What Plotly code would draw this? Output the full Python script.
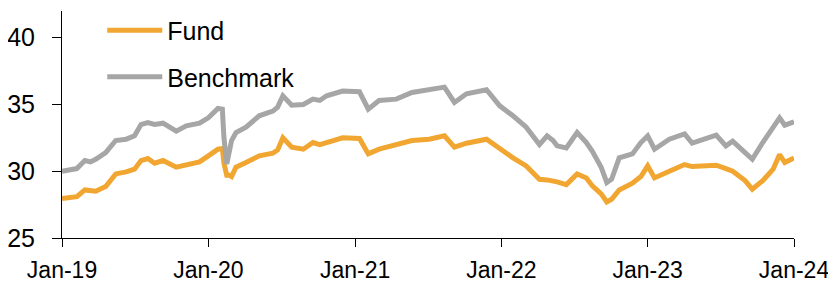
import plotly.graph_objects as go

dates = [
    "2019-01-01", "2019-02-07", "2019-02-27", "2019-03-13", "2019-03-26", "2019-04-20",
    "2019-05-15", "2019-06-10", "2019-07-01", "2019-07-17", "2019-08-03", "2019-08-20",
    "2019-09-10", "2019-10-13", "2019-11-07", "2019-12-10", "2020-01-01", "2020-01-25",
    "2020-02-05", "2020-02-09", "2020-02-16", "2020-02-22", "2020-02-28", "2020-03-10",
    "2020-04-04", "2020-05-07", "2020-06-10", "2020-06-22", "2020-07-05", "2020-07-27",
    "2020-08-25", "2020-09-18", "2020-10-05", "2020-10-22", "2020-12-01", "2021-01-12",
    "2021-02-03", "2021-03-02", "2021-04-14", "2021-05-23", "2021-07-05", "2021-08-12",
    "2021-09-06", "2021-10-06", "2021-11-25", "2021-12-28", "2022-01-30", "2022-03-04",
    "2022-04-06", "2022-04-25", "2022-05-10", "2022-05-20", "2022-06-12", "2022-07-09",
    "2022-08-01", "2022-08-16", "2022-09-07", "2022-09-21", "2022-10-03", "2022-10-22",
    "2022-11-24", "2022-12-15", "2023-01-01", "2023-01-18", "2023-02-24", "2023-04-03",
    "2023-04-22", "2023-05-27", "2023-06-21", "2023-07-15", "2023-08-01", "2023-09-01",
    "2023-09-19", "2023-10-15", "2023-11-10", "2023-11-26", "2023-12-09", "2024-01-01",
]

fund = [
    27.95, 28.1, 28.6, 28.55, 28.5, 28.85,
    29.8, 29.95, 30.15, 30.8, 30.95, 30.6,
    30.8, 30.3, 30.5, 30.7, 31.15, 31.65,
    31.7, 30.6, 29.7, 29.7, 29.6, 30.3,
    30.65, 31.15, 31.35, 31.6, 32.5, 31.8,
    31.65, 32.15, 32.0, 32.15, 32.5, 32.45,
    31.3, 31.65, 32.0, 32.3, 32.4, 32.65,
    31.8, 32.1, 32.4, 31.65, 31.0, 30.4,
    29.4, 29.35, 29.3, 29.2, 29.0, 29.8,
    29.5, 28.9, 28.3, 27.7, 27.9, 28.6,
    29.1, 29.6, 30.4, 29.5, 30.0, 30.5,
    30.35, 30.4, 30.45, 30.2, 30.0, 29.3,
    28.65, 29.3, 30.15, 31.25, 30.65, 31.0,
]

benchmark = [
    30.0, 30.2, 30.8, 30.7, 30.9, 31.4,
    32.3, 32.4, 32.65, 33.5, 33.65, 33.5,
    33.6, 33.0, 33.4, 33.6, 34.0, 34.7,
    34.65, 32.5, 30.55, 31.5, 32.3, 32.9,
    33.3, 34.15, 34.5, 34.8, 35.65, 34.95,
    35.0, 35.4, 35.3, 35.65, 36.0, 35.95,
    34.65, 35.3, 35.4, 35.9, 36.15, 36.3,
    35.15, 35.8, 36.1, 34.9, 34.15, 33.3,
    32.0, 32.65, 32.3, 31.9, 31.75, 32.9,
    32.15, 31.5, 30.3, 29.15, 29.4, 31.0,
    31.3, 32.15, 32.65, 31.65, 32.4, 32.8,
    32.1, 32.5, 32.7, 31.9, 32.25, 31.4,
    30.9, 32.15, 33.4, 34.0, 33.45, 33.7,
]

x_ticks = ["2019-01-01", "2020-01-01", "2021-01-01", "2022-01-01", "2023-01-01", "2024-01-01"]
x_tick_labels = ["Jan-19", "Jan-20", "Jan-21", "Jan-22", "Jan-23", "Jan-24"]
y_ticks = [25, 30, 35, 40]

FUND_COLOR = "#F0A630"
BENCH_COLOR = "#A6A6A6"
FONT = "Liberation Sans, Arial, sans-serif"

fig = go.Figure()
fig.add_trace(go.Scatter(x=dates, y=fund, mode="lines", name="Fund",
                         line=dict(color=FUND_COLOR, width=5), legendgroup="f"))
fig.add_trace(go.Scatter(x=dates, y=benchmark, mode="lines", name="Benchmark",
                         line=dict(color=BENCH_COLOR, width=5), legendgroup="b"))

# The page body adds an 8px offset, so the figure is sized to fit the window.
fig.update_layout(
    width=828, height=274,
    margin=dict(l=54, r=42, t=3, b=44, autoexpand=False),
    paper_bgcolor="white", plot_bgcolor="white",
    font=dict(family=FONT, size=25, color="black"),
    showlegend=True,
    legend=dict(x=0.055, y=1.015, xanchor="left", yanchor="top",
                bgcolor="rgba(0,0,0,0)", font=dict(family=FONT, size=25),
                itemwidth=55, tracegroupgap=11, traceorder="grouped"),
    xaxis=dict(
        range=["2019-01-01", "2024-01-01"],
        tickvals=x_ticks, ticktext=x_tick_labels,
        showgrid=False, zeroline=False, automargin=False,
        showline=True, linecolor="black", linewidth=1,
        ticks="outside", ticklen=8, tickcolor="black", tickwidth=1,
        tickfont=dict(family=FONT, size=23),
        ticklabelstandoff=3,
    ),
    yaxis=dict(
        range=[25, 42],
        tickvals=y_ticks,
        showgrid=False, zeroline=False, automargin=False,
        showline=True, linecolor="black", linewidth=1,
        ticks="outside", ticklen=9, tickcolor="black", tickwidth=1,
        tickfont=dict(family=FONT, size=25),
        ticklabelstandoff=12,
    ),
)

fig.write_html("out.html")
